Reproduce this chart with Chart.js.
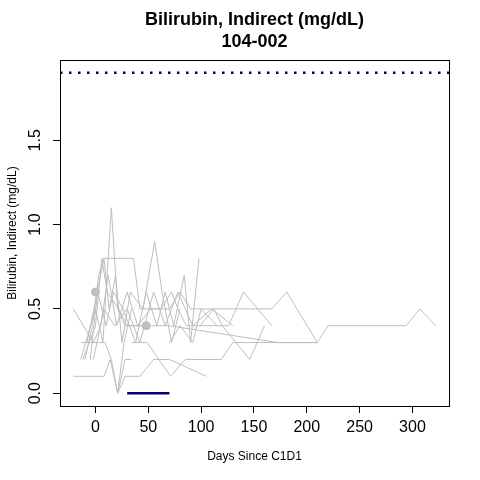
<!DOCTYPE html>
<html><head><meta charset="utf-8">
<script src="https://cdn.jsdelivr.net/npm/chart.js@4"></script>
<style>html,body{margin:0;padding:0;background:#fff}canvas{display:block}</style>
</head><body>
<canvas id="c" width="480" height="480"></canvas>
<script>
const titleLines = ["Bilirubin, Indirect (mg/dL)", "104-002"];
const xTitle = "Days Since C1D1";
const yTitle = "Bilirubin, Indirect (mg/dL)";
const xTicks = [0, 50, 100, 150, 200, 250, 300];
const yTicks = [0.0, 0.5, 1.0, 1.5];
const xLimits = [-33.6, 334.6];
const yLimits = [-0.076, 1.976];
const upperRef = 1.9;

const s01 = [[-21,0.1],[8,0.1],[14,0.2],[21,0.0],[28,0.2],[34,0.2]];
const s02 = [[21,0.0],[28,0.1],[42,0.1],[55,0.2],[70,0.2],[105,0.1]];
const s03 = [[-13,0.3],[9,0.3],[15,0.2],[21,0.0],[27,0.3],[34,0.5]];
const s04 = [[34,0.3],[49,0.3],[71,0.1],[85,0.2],[119,0.2],[130,0.3],[175,0.3],[210,0.3]];
const s05 = [[-14,0.2],[0,0.5],[7,0.3],[15,1.1],[21,0.5],[28,0.4],[70,0.4],[173,0.3],[210,0.3],[220,0.4],[294,0.4],[307,0.5],[322,0.4]];
const s06 = [[-8,0.3],[8,0.8],[15,0.8],[36,0.8],[42,0.5],[56,0.5],[70,0.5],[80,0.6],[90,0.5],[104,0.5],[140,0.5],[155,0.5],[167,0.5],[181,0.6],[210,0.3]];
const s07 = [[-21,0.5],[-2,0.3],[5,0.4],[12,0.7],[20,0.4],[30,0.6],[40,0.4],[48,0.4]];
const s08 = [[-10,0.2],[-3,0.4],[3,0.7],[8,0.8],[13,0.5],[19,0.7],[25,0.3],[33,0.6],[45,0.5],[56,0.9],[63,0.6],[72,0.3],[80,0.5]];
const s09 = [[-5,0.2],[2,0.6],[10,0.4],[17,0.6],[26,0.5],[38,0.3],[48,0.6],[58,0.4],[66,0.6],[74,0.4],[84,0.7],[90,0.3],[98,0.8]];
const s10 = [[-12,0.2],[0,0.4],[6,0.8],[11,0.6],[22,0.5],[30,0.4],[40,0.4],[52,0.5],[62,0.5],[72,0.6],[78,0.5],[86,0.4],[100,0.4],[126,0.4],[140,0.6],[167,0.4]];
const s11 = [[99,0.4],[112,0.5],[120,0.4],[133,0.3],[146,0.2],[160,0.4]];
const s12 = [[70,0.3],[80,0.4],[92,0.3],[100,0.5],[115,0.4]];
const s13 = [[-2,0.2],[8,0.5],[18,0.4],[30,0.5],[42,0.3],[55,0.6],[66,0.4],[78,0.6],[92,0.4],[110,0.5],[130,0.4]];
const subjectPoints = [[0,0.6],[48,0.4]];
const dosingSegment = [[30,0.0],[70,0.0]];

const allSeries = [s01,s02,s03,s04,s05,s06,s07,s08,s09,s10,s11,s12,s13];
const toXY = arr => arr.map(p => ({x:p[0], y:p[1]}));

const datasets = allSeries.map(s => ({
  type:'line', data: toXY(s), borderColor:'#BEBEBE', borderWidth:1,
  pointRadius:0, fill:false, tension:0
}));
datasets.push({type:'scatter', data: toXY(subjectPoints), backgroundColor:'#BEBEBE',
  borderColor:'#BEBEBE', pointRadius:4, showLine:false});
datasets.push({type:'line', data: toXY(dosingSegment), borderColor:'#000080', borderWidth:2.5,
  pointRadius:0, fill:false});
datasets.push({type:'line', data: [{x:xLimits[0],y:upperRef},{x:xLimits[1],y:upperRef}],
  borderColor:'#000060', borderWidth:2.5, borderDash:[2.5,6.5], pointRadius:0, fill:false});

const FONT = '"Liberation Sans", Arial, sans-serif';

const decor = {
  id:'decor',
  afterDraw(chart){
    const ctx = chart.ctx, a = chart.chartArea, ys = chart.scales.y;
    ctx.save();
    ctx.strokeStyle = '#000'; ctx.lineWidth = 1;
    ctx.strokeRect(a.left+0.5, a.top+0.5, a.right-a.left, a.bottom-a.top);
    ctx.fillStyle = '#000';
    ctx.font = 'bold 18px ' + FONT;
    ctx.textAlign = 'center'; ctx.textBaseline = 'middle';
    const cx = (a.left + a.right)/2;
    ctx.fillText(titleLines[0], cx, 20);
    ctx.fillText(titleLines[1], cx, 42);
    ctx.font = '16px ' + FONT;
    yTicks.forEach(v => {
      const py = ys.getPixelForValue(v);
      ctx.save();
      ctx.translate(36, py);
      ctx.rotate(-Math.PI/2);
      ctx.textAlign='center'; ctx.textBaseline='middle';
      ctx.fillText(v.toFixed(1), 0, 0);
      ctx.restore();
    });
    ctx.restore();
  }
};

new Chart(document.getElementById('c'), {
  data:{datasets},
  options:{
    responsive:false, animation:false,
    layout:{padding:{top:60, right:31, left:0, bottom:0}},
    plugins:{legend:{display:false}, tooltip:{enabled:false}, title:{display:false}},
    scales:{
      x:{type:'linear', min:xLimits[0], max:xLimits[1],
        afterBuildTicks: s => { s.ticks = xTicks.map(v => ({value:v})); },
        afterFit: s => { s.height = 74; },
        grid:{drawOnChartArea:false, drawTicks:true, tickLength:7, color:'#000', tickColor:'#000'},
        border:{display:false},
        ticks:{color:'#000', font:{family:FONT, size:16}, padding:5, maxRotation:0, autoSkip:false},
        title:{display:true, text:xTitle, color:'#000', font:{family:FONT, size:12}, padding:{top:4,bottom:16}}
      },
      y:{type:'linear', min:yLimits[0], max:yLimits[1],
        afterBuildTicks: s => { s.ticks = yTicks.map(v => ({value:v})); },
        afterFit: s => { s.width = 60; },
        grid:{drawOnChartArea:false, drawTicks:true, tickLength:7, color:'#000', tickColor:'#000'},
        border:{display:false},
        ticks:{color:'rgba(0,0,0,0)', font:{family:FONT, size:16}, padding:5},
        title:{display:true, text:yTitle, color:'#000', font:{family:FONT, size:12}, padding:{top:5,bottom:4}}
      }
    }
  },
  plugins:[decor]
});
</script>
</body></html>
